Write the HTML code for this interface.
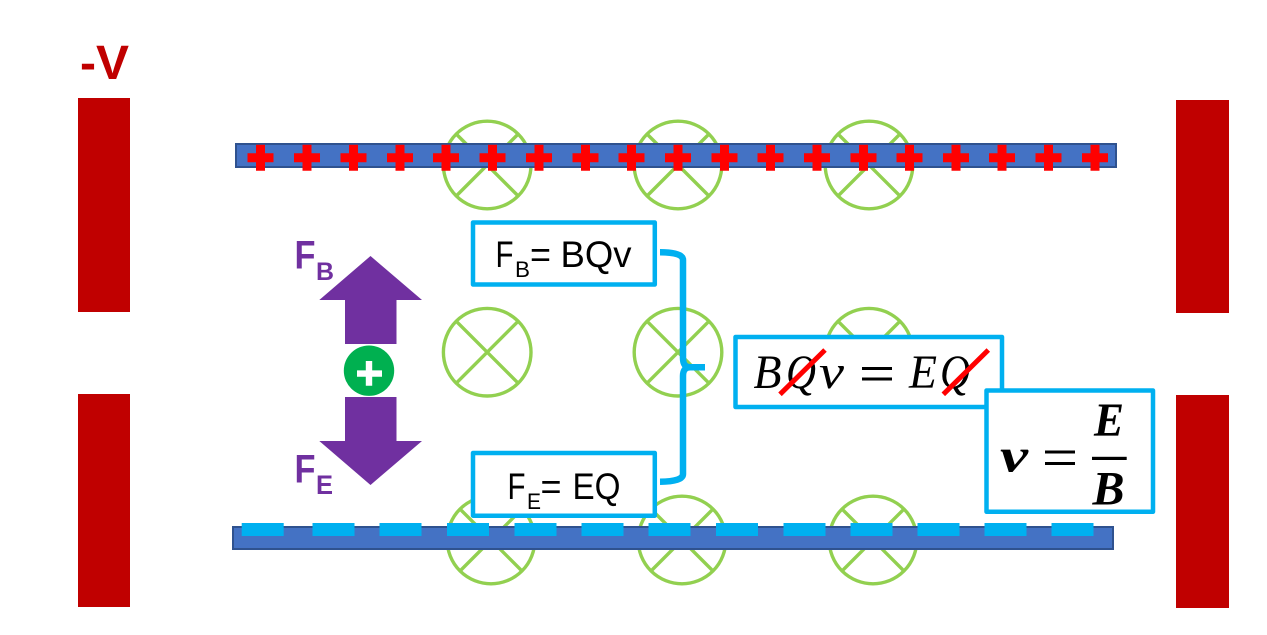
<!DOCTYPE html>
<html>
<head>
<meta charset="utf-8">
<style>
html,body{margin:0;padding:0;background:#fff;width:1267px;height:635px;overflow:hidden}
svg{display:block}
.c{font-family:"Liberation Sans",sans-serif}
.m{font-family:"Liberation Serif",serif}
</style>
</head>
<body>
<svg width="1267" height="635" viewBox="0 0 1267 635" xmlns="http://www.w3.org/2000/svg">
<defs>
<g id="x" fill="none" stroke="#92D050" stroke-width="3.4">
<circle cx="0" cy="0" r="43.8"/>
<path d="M-31-31L31 31M-31 31L31-31"/>
</g>
<path id="p" d="M-4.500-13H4.500V-4.500H13V4.500H4.500V13H-4.500V4.500H-13V-4.500H-4.500Z" fill="#FF0000"/>
</defs>
<rect width="1267" height="635" fill="#fff"/>

<!-- plates -->
<rect x="78" y="98" width="52" height="214" fill="#C00000"/>
<rect x="78" y="394" width="52" height="213" fill="#C00000"/>
<rect x="1176" y="100" width="53" height="213" fill="#C00000"/>
<rect x="1176" y="395" width="53" height="213" fill="#C00000"/>
<text class="c" x="80" y="79" font-size="48" font-weight="700" fill="#C00000" textLength="16" lengthAdjust="spacingAndGlyphs">-</text>
<text class="c" x="96" y="79" font-size="48" font-weight="700" fill="#C00000" textLength="33" lengthAdjust="spacingAndGlyphs">V</text>

<!-- field symbols -->
<use href="#x" x="487.200" y="165"/><use href="#x" x="678" y="165"/><use href="#x" x="869" y="165"/>
<use href="#x" x="487.200" y="352.200"/><use href="#x" x="678" y="352.200"/><use href="#x" x="869" y="352.200"/>
<use href="#x" x="491" y="540"/><use href="#x" x="682" y="540"/><use href="#x" x="873" y="540"/>

<!-- top bar -->
<rect x="236" y="144" width="880" height="23" fill="#4472C4" stroke="#2F528F" stroke-width="2"/>
<use href="#p" x="260.500" y="157.800"/><use href="#p" x="307" y="157.800"/><use href="#p" x="353.500" y="157.800"/>
<use href="#p" x="400" y="157.800"/><use href="#p" x="446" y="157.800"/><use href="#p" x="492.500" y="157.800"/>
<use href="#p" x="539" y="157.800"/><use href="#p" x="585.500" y="157.800"/><use href="#p" x="631.500" y="157.800"/>
<use href="#p" x="678" y="157.800"/><use href="#p" x="724.500" y="157.800"/><use href="#p" x="770.500" y="157.800"/>
<use href="#p" x="817" y="157.800"/><use href="#p" x="863.500" y="157.800"/><use href="#p" x="909.500" y="157.800"/>
<use href="#p" x="956" y="157.800"/><use href="#p" x="1002" y="157.800"/><use href="#p" x="1048.500" y="157.800"/>
<use href="#p" x="1095" y="157.800"/>

<!-- bottom bar -->
<rect x="233" y="527" width="880" height="22" fill="#4472C4" stroke="#2F528F" stroke-width="2"/>
<g fill="#00B0F0">
<rect x="241.700" y="523" width="42" height="13"/><rect x="312.500" y="523" width="42" height="13"/>
<rect x="379.500" y="523" width="42" height="13"/><rect x="447" y="523" width="42" height="13"/>
<rect x="514.500" y="523" width="42" height="13"/><rect x="581.500" y="523" width="42" height="13"/>
<rect x="648.500" y="523" width="42" height="13"/><rect x="716" y="523" width="42" height="13"/>
<rect x="783.500" y="523" width="42" height="13"/><rect x="850.500" y="523" width="42" height="13"/>
<rect x="917.500" y="523" width="42" height="13"/><rect x="984.500" y="523" width="42" height="13"/>
<rect x="1051.500" y="523" width="42" height="13"/>
</g>

<!-- force arrows -->
<path d="M370.500 256L422 300H396.500V344H345V300H319.300Z" fill="#7030A0"/>
<path d="M345 397H396.500V441H422L370.500 485L319.300 441H345Z" fill="#7030A0"/>
<circle cx="369" cy="370.700" r="25.200" fill="#00B050"/>
<path d="M365.800 361H372.200V370.400H382V376.800H372.200V385.700H365.800V376.800H357V370.400H365.800Z" fill="#fff"/>
<text class="c" x="294.500" y="268.500" font-size="40" font-weight="700" fill="#7030A0" textLength="21" lengthAdjust="spacingAndGlyphs">F</text>
<text class="c" x="316" y="280" font-size="25" font-weight="700" fill="#7030A0" textLength="18" lengthAdjust="spacingAndGlyphs">B</text>
<text class="c" x="294.500" y="482.700" font-size="40" font-weight="700" fill="#7030A0" textLength="21" lengthAdjust="spacingAndGlyphs">F</text>
<text class="c" x="316" y="494" font-size="27" font-weight="700" fill="#7030A0" textLength="17" lengthAdjust="spacingAndGlyphs">E</text>

<!-- brace -->
<path d="M660 252.300Q683 252.300 683 260V358Q683 367.300 690 367.300M683 376Q683 367.300 690 367.300H705M683 376V474Q683 481.500 660 481.700" fill="none" stroke="#00B0F0" stroke-width="6.500"/>

<!-- equation boxes -->
<rect x="473" y="222.500" width="181.800" height="62" fill="#fff" stroke="#00B0F0" stroke-width="4.500" stroke-linejoin="round"/>
<text class="c" x="495.500" y="267" font-size="37" fill="#000" textLength="18" lengthAdjust="spacingAndGlyphs">F</text>
<text class="c" x="515" y="277" font-size="22" fill="#000" textLength="15" lengthAdjust="spacingAndGlyphs">B</text>
<text class="c" x="530" y="267" font-size="37" fill="#000" textLength="21" lengthAdjust="spacingAndGlyphs">=</text>
<text class="c" x="560.500" y="267" font-size="37" fill="#000" textLength="71" lengthAdjust="spacingAndGlyphs">BQv</text>

<rect x="473" y="453" width="181.800" height="62.700" fill="#fff" stroke="#00B0F0" stroke-width="4.500" stroke-linejoin="round"/>
<text class="c" x="507.500" y="499" font-size="37" fill="#000" textLength="18" lengthAdjust="spacingAndGlyphs">F</text>
<text class="c" x="527" y="509" font-size="22" fill="#000" textLength="14" lengthAdjust="spacingAndGlyphs">E</text>
<text class="c" x="540.500" y="499" font-size="37" fill="#000" textLength="21" lengthAdjust="spacingAndGlyphs">=</text>
<text class="c" x="572.500" y="499" font-size="37" fill="#000" textLength="48" lengthAdjust="spacingAndGlyphs">EQ</text>

<rect x="735.500" y="337" width="266.500" height="70" fill="#fff" stroke="#00B0F0" stroke-width="4.500" stroke-linejoin="round"/>
<text class="m" x="753.500" y="388" font-size="48" font-style="italic" fill="#000" textLength="28" lengthAdjust="spacingAndGlyphs">B</text>
<text class="m" x="786" y="388" font-size="48" font-style="italic" fill="#000" textLength="30" lengthAdjust="spacingAndGlyphs">Q</text>
<text class="m" x="819" y="388" font-size="48" font-style="italic" fill="#000" textLength="25" lengthAdjust="spacingAndGlyphs">v</text>
<path d="M862 368.500H892M862 379H892" stroke="#000" stroke-width="3" fill="none"/>
<text class="m" x="909" y="388" font-size="48" font-style="italic" fill="#000" textLength="28" lengthAdjust="spacingAndGlyphs">E</text>
<text class="m" x="940" y="388" font-size="48" font-style="italic" fill="#000" textLength="30" lengthAdjust="spacingAndGlyphs">Q</text>
<path d="M780 394.300L825 350M943.300 394.300L988.300 350" stroke="#FF0000" stroke-width="5" fill="none"/>

<rect x="986.500" y="390.500" width="166.500" height="121.300" fill="#fff" stroke="#00B0F0" stroke-width="4.500" stroke-linejoin="round"/>
<text class="m" x="1000" y="471.700" font-size="48" font-style="italic" font-weight="700" fill="#000" textLength="28" lengthAdjust="spacingAndGlyphs">v</text>
<path d="M1045 452H1075M1045 463.500H1075" stroke="#000" stroke-width="3" fill="none"/>
<rect x="1092" y="456.800" width="34.700" height="3.200" fill="#000"/>
<text class="m" x="1094" y="436" font-size="48" font-style="italic" font-weight="700" fill="#000" textLength="30" lengthAdjust="spacingAndGlyphs">E</text>
<text class="m" x="1092.500" y="504.500" font-size="48" font-style="italic" font-weight="700" fill="#000" textLength="32" lengthAdjust="spacingAndGlyphs">B</text>
</svg>
</body>
</html>
